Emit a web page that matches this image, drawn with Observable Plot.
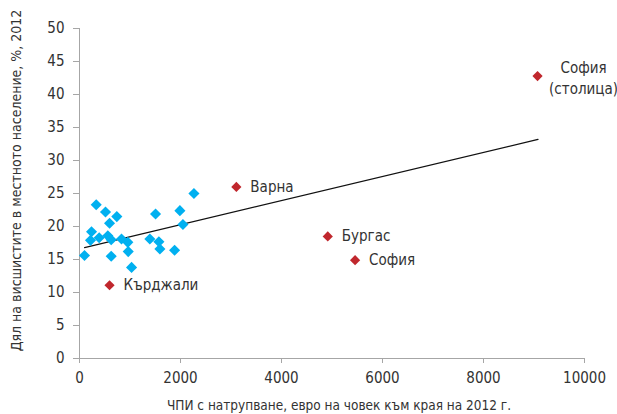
<!DOCTYPE html>
<html>
<head>
<meta charset="utf-8">
<script src="https://cdn.jsdelivr.net/npm/d3@7"></script>
<script src="https://cdn.jsdelivr.net/npm/@observablehq/plot@0.6"></script>
<style>
  html, body { margin: 0; padding: 0; background: #fff; }
  #chart svg { display: block; }
</style>
</head>
<body>
<div id="chart"></div>
<script>
// Blue diamonds: other districts (x: EUR per capita cumulative FDI, y: share with higher education %)
const blueX = [99, 218, 238, 331, 390, 515, 595, 561, 628, 739, 628, 832, 957, 965, 1031, 1393, 1506, 1572, 1592, 1883, 1988, 2048, 2266];
const blueY = [15.6, 17.9, 19.2, 23.3, 18.3, 22.2, 20.5, 18.6, 18.0, 21.5, 15.5, 18.1, 17.6, 16.2, 13.8, 18.1, 21.9, 17.7, 16.6, 16.4, 22.4, 20.3, 25.0];

// Red diamonds: labelled districts
const cityNames = ["София\n(столица)", "Варна", "Бургас", "София", "Кърджали"];
const cityX = [9070, 3106, 4916, 5457, 595];
const cityY = [42.8, 26.0, 18.5, 14.9, 11.1];

// Trend line end points
const trendX = [100, 9080];
const trendY = [16.8, 33.2];

// Ticks
const xTicks = [0, 2000, 4000, 6000, 8000, 10000];
const yTicks = [0, 5, 10, 15, 20, 25, 30, 35, 40, 45, 50];

const yLabel = "Дял на висшистите в местното население, %, 2012";
const xLabel = "ЧПИ с натрупване, евро на човек към края на 2012 г.";

const blue = blueX.map((x, i) => ({x, y: blueY[i]}));
const cities = cityNames.map((name, i) => ({name, x: cityX[i], y: cityY[i]}));
const trend = trendX.map((x, i) => ({x, y: trendY[i]}));
const capital = cities.filter(d => d.name.includes("столица"));
const others = cities.filter(d => !d.name.includes("столица"));

const font = "'DejaVu Sans Condensed', 'Liberation Sans Narrow', 'Roboto', sans-serif";
const axisGray = "#a6a6a6";
const textColor = "#333333";

const chart = Plot.plot({
  width: 617,
  height: 414,
  marginLeft: 79,
  marginRight: 33,
  marginTop: 28,
  marginBottom: 56,
  style: {fontFamily: font, fontSize: "15px", color: textColor, background: "#fff"},
  x: {domain: [0, 10000]},
  y: {domain: [0, 50]},
  marks: [
    Plot.ruleY([0], {stroke: axisGray, strokeWidth: 1}),
    Plot.ruleX([0], {stroke: axisGray, strokeWidth: 1}),
    Plot.axisY(yTicks, {tickSize: 6, tickPadding: 9, stroke: axisGray, fill: textColor, label: null, fontSize: 15}),
    Plot.axisX(xTicks, {tickSize: 5, tickPadding: 9, stroke: axisGray, fill: textColor, label: null, fontSize: 15, tickFormat: d => String(d)}),
    Plot.line(trend, {x: "x", y: "y", stroke: "#111", strokeWidth: 1.2}),
    Plot.dot(blue, {x: "x", y: "y", symbol: "diamond2", r: 5, fill: "#00b0f0", stroke: "none"}),
    Plot.dot(cities, {x: "x", y: "y", symbol: "diamond2", r: 4.6, fill: "#c0272d", stroke: "none"}),
    Plot.text(others, {x: "x", y: "y", text: "name", textAnchor: "start", dx: 14, fill: textColor, fontSize: 15}),
    Plot.text(capital, {x: "x", y: "y", text: "name", textAnchor: "middle", dx: 46, dy: 1, lineHeight: 1.4, fill: textColor, fontSize: 15}),
    Plot.text([yLabel], {frameAnchor: "left", textAnchor: "middle", lineAnchor: "middle", rotate: -90, dx: -63, dy: -13, fill: textColor, fontSize: 14}),
    Plot.text([xLabel], {frameAnchor: "bottom", textAnchor: "middle", lineAnchor: "middle", dx: 7, dy: 47, fill: textColor, fontSize: 13.5})
  ]
});

document.getElementById("chart").appendChild(chart);
</script>
</body>
</html>
